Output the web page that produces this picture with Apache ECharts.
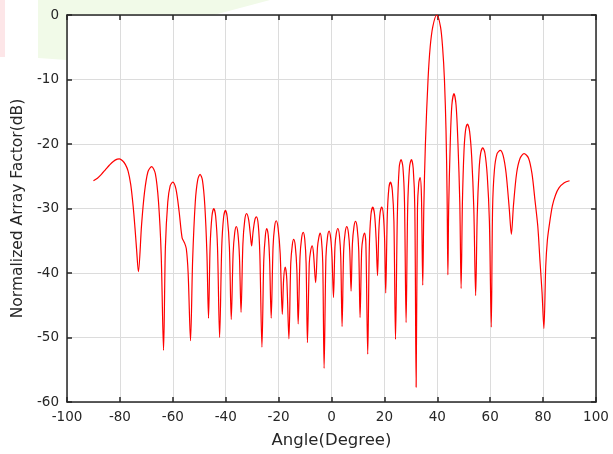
<!DOCTYPE html>
<html>
<head>
<meta charset="utf-8">
<script src="https://cdn.jsdelivr.net/npm/echarts@6/dist/echarts.min.js"></script>
<style>
html,body{margin:0;padding:0;background:#fff;}
#c{width:613px;height:454px;}
</style>
</head>
<body>
<div id="c"></div>
<script>
// Angle (degree) samples
const angles = [
-90,-88.5,-87,-85.5,-84,-82.5,-81,-80.2,-79,-77.9,-76.9,-75.9,-75.0,-74.3,-73.7,-73.0,
-71.8,-70.7,-69.4,-68.0,-66.6,-65.4,-64.4,-63.5,
-62.8,-61.9,-61.0,-60.0,-58.8,-57.6,-56.5,-55.6,-54.9,-54.2,-53.3,
-52.5,-51.5,-50.6,-49.7,-48.8,-47.9,-47.1,-46.5,
-45.9,-45.2,-44.5,-43.8,-43.1,-42.3,
-41.5,-40.8,-40.1,-39.4,-38.6,-37.9,
-37.2,-36.6,-36.0,-35.4,-34.8,-34.2,
-33.5,-32.8,-32.1,-31.3,-30.7,-30.2,
-29.7,-29.0,-28.4,-27.7,-27.1,-26.3,
-25.6,-25.0,-24.5,-23.9,-23.4,-22.8,
-22.1,-21.5,-20.9,-20.2,-19.4,-18.6,
-18.1,-17.5,-16.9,-16.1,
-15.4,-14.8,-14.3,-13.7,-13.1,-12.6,
-11.9,-11.3,-10.7,-10.1,-9.6,-9.1,
-8.4,-7.9,-7.3,-6.8,-6.0,
-5.3,-4.8,-4.3,-3.8,-3.3,-2.8,
-2.1,-1.5,-0.9,-0.3,0.2,0.75,
1.3,1.8,2.4,3.0,3.5,4.0,
4.6,5.2,5.8,6.4,6.9,7.4,
7.9,8.5,9.1,9.7,10.3,10.8,
11.4,11.9,12.5,13.0,13.7,
14.3,14.9,15.6,16.3,16.9,17.4,
17.9,18.4,19.0,19.6,20.1,20.5,
21.1,21.7,22.3,23.0,23.6,24.2,
24.9,25.6,26.3,27.0,27.6,28.2,
28.8,29.5,30.2,30.9,31.5,32.0,
32.5,33.0,33.5,34.0,34.5,
34.9,35.5,36.5,37.3,38.3,39.8,41.2,42.0,42.7,43.3,43.7,44.0,
44.3,44.9,45.5,46.3,47.1,47.8,48.5,49.0,
49.5,50.1,50.7,51.4,52.2,53.0,53.8,54.5,
55.1,55.8,56.4,57.2,58.0,58.9,59.7,60.4,
60.9,61.6,62.6,63.8,64.9,66.0,67.2,68.0,
68.8,70.0,71.3,72.8,74.5,75.8,76.9,78.0,78.8,79.6,80.3,
81.0,81.6,82.3,83.5,84.7,86.0,88.0,90
];
// Normalized array factor (dB) at those angles
const afdB = [
-25.7,-25.3,-24.7,-24.0,-23.3,-22.7,-22.35,-22.3,-22.6,-23.2,-24.2,-26.3,-29.6,-33,-36.3,-39.8,
-32.5,-27.5,-24.3,-23.5,-24.6,-29,-37,-52.0,
-36,-29,-26.5,-25.9,-27,-30.5,-34.5,-35.3,-36.2,-40,-50.5,
-38,-29,-25.6,-24.7,-25.6,-29.5,-37,-47.0,
-36,-31.2,-30.0,-31.2,-36,-50.0,
-36,-31.4,-30.3,-31.4,-36,-47.2,
-37,-33.8,-32.8,-33.8,-37.5,-46.1,
-35.5,-31.8,-30.8,-31.8,-34,-35.8,
-33.8,-31.8,-31.3,-32.5,-37,-51.5,
-38,-34.2,-33.1,-34.2,-38,-47.0,
-36,-32.8,-31.9,-33,-37,-46.4,
-41,-39.1,-41,-50.2,
-38.5,-35.6,-34.8,-35.8,-39.5,-47.9,
-37.5,-34.6,-33.7,-34.8,-38.5,-50.8,
-38.5,-36.6,-35.8,-37,-41.5,
-36,-34.5,-33.8,-34.8,-38.5,-54.8,
-37.5,-34.4,-33.5,-34.6,-37.5,-43.8,
-36,-33.9,-33.1,-34.2,-37.5,-48.3,
-36.5,-33.6,-32.8,-33.8,-36.5,-42.8,
-35.5,-32.8,-32.0,-33,-36.5,-46.9,
-36.5,-34.6,-33.8,-35.5,-52.6,
-36,-31,-29.8,-31,-35,-40.4,
-33.5,-30.6,-29.8,-31,-35,-43.1,
-31,-26.8,-25.9,-27.2,-32,-50.3,
-31,-23.6,-22.4,-23.6,-29,-47.7,
-30,-23.6,-22.4,-23.8,-30,-57.7,
-30,-26,-25.2,-28,-41.9,
-30,-20,-10,-5,-1.8,0,-1.8,-5,-10,-18,-28,-40.3,
-30,-19.8,-14,-12.2,-14,-19.8,-29,-42.4,
-29,-21,-17.8,-16.9,-18,-22,-30,-43.5,
-31,-24,-21.4,-20.6,-21.4,-25,-32,-48.4,
-30,-24,-21.5,-21.0,-21.8,-24.5,-30,-34.0,
-29.5,-24.5,-22.2,-21.5,-22.2,-24.6,-28.6,-32.8,-38,-43,-48.6,
-38.9,-35,-32.7,-29.6,-27.9,-26.8,-26.0,-25.7
];
const xTicks = [-100,-80,-60,-40,-20,0,20,40,60,80,100];
const yTicks = [-60,-50,-40,-30,-20,-10,0];

const chart = echarts.init(document.getElementById('c'), null, {renderer:'canvas'});
const FONT = 'DejaVu Sans, Verdana, sans-serif';
const AX = '#262626';
const pts = angles.map((a,i)=>[a, afdB[i]]);

chart.setOption({
  animation:false,
  backgroundColor:'#ffffff',
  graphic:[
    {type:'rect', z:-10, shape:{x:0,y:0,width:5,height:57}, style:{fill:'#fde6e8'}},
    {type:'polygon', z:-10, shape:{points:[[38,0],[270,0],[120,40],[67,60],[38,58]]}, style:{fill:'#f1fae8'}}
  ],
  grid:{left:67, right:17, top:15, bottom:51, show:true, backgroundColor:'#ffffff', borderWidth:0, z:0},
  xAxis:[{
    type:'value', min:-100, max:100, interval:20,
    name:'Angle(Degree)', nameLocation:'middle', nameGap:30,
    nameTextStyle:{fontFamily:FONT, fontSize:16.5, color:AX},
    axisLine:{show:true, onZero:false, lineStyle:{color:AX, width:1.5}},
    axisTick:{show:true, inside:true, length:5, lineStyle:{color:AX, width:1.5}},
    axisLabel:{fontFamily:FONT, fontSize:13.5, color:AX, margin:8},
    splitLine:{show:true, lineStyle:{color:'#dcdcdc', width:1}}
  },{
    type:'value', min:-100, max:100, interval:20, position:'top',
    axisLine:{show:true, onZero:false, lineStyle:{color:AX, width:1.5}},
    axisTick:{show:true, inside:true, length:5, lineStyle:{color:AX, width:1.5}},
    axisLabel:{show:false}, splitLine:{show:false}
  }],
  yAxis:[{
    type:'value', min:-60, max:0, interval:10,
    name:'Normalized Array Factor(dB)', nameLocation:'middle', nameGap:32,
    nameTextStyle:{fontFamily:FONT, fontSize:15.5, color:AX},
    axisLine:{show:true, onZero:false, lineStyle:{color:AX, width:1.5}},
    axisTick:{show:true, inside:true, length:5, lineStyle:{color:AX, width:1.5}},
    axisLabel:{fontFamily:FONT, fontSize:13.5, color:AX, margin:8},
    splitLine:{show:true, lineStyle:{color:'#dcdcdc', width:1}}
  },{
    type:'value', min:-60, max:0, interval:10, position:'right',
    axisLine:{show:true, onZero:false, lineStyle:{color:AX, width:1.5}},
    axisTick:{show:true, inside:true, length:5, lineStyle:{color:AX, width:1.5}},
    axisLabel:{show:false}, splitLine:{show:false}
  }],
  series:[{
    type:'line', data:pts, xAxisIndex:0, yAxisIndex:0,
    showSymbol:false, smooth:0.3,
    lineStyle:{color:'#ff0000', width:1.2},
    clip:true, z:3
  }]
});
</script>
</body>
</html>
